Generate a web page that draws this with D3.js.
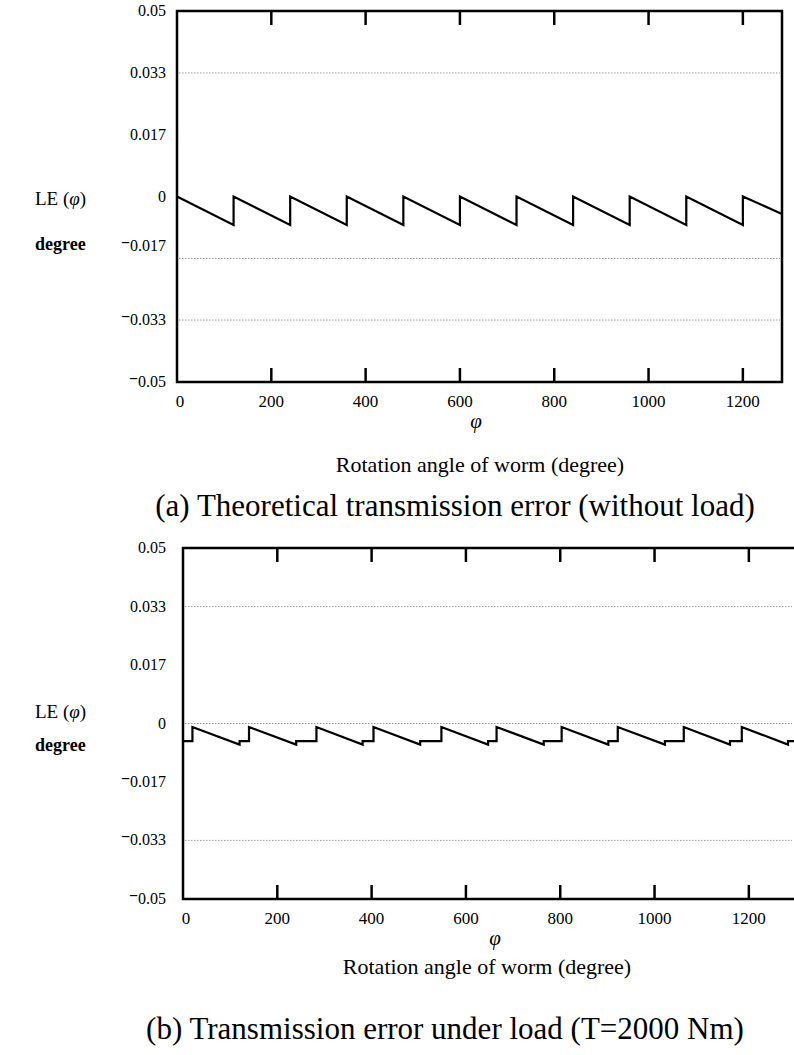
<!DOCTYPE html>
<meta charset="utf-8">
<style>
body {
  margin: 0;
  background: #fff;
}
svg text {
  font-family: "Liberation Serif", "Times New Roman", serif;
  fill: #000;
}
.frame {
  fill: none;
  stroke: #000;
  stroke-width: 2.5px;
}
.grid {
  stroke: #999;
  stroke-width: 1px;
  stroke-dasharray: 1.5 1.5;
}
.curve {
  fill: none;
  stroke: #000;
  stroke-width: 2.2px;
}
.tick {
  stroke: #000;
  stroke-width: 2.5px;
}
</style>
<body>
<script src="https://cdn.jsdelivr.net/npm/d3@7"></script>
<script>
// tick values and labels (shared by both panels)
var xTicks = [200, 400, 600, 800, 1000, 1200];
var xTickLabels = ["0", "200", "400", "600", "800", "1000", "1200"];
var xLabelVals = [0, 200, 400, 600, 800, 1000, 1200];
var yTicks = [0.05, 0.0333, 0.0167, 0, -0.0167, -0.0333, -0.05];
var yTickLabels = ["0.05", "0.033", "0.017", "0", "0.017", "0.033", "0.05"];

// (a) without load: sawtooth breakpoints
var phiA = [0, 120, 120, 240, 240, 360, 360, 480, 480, 600, 600, 720, 720,
            840, 840, 960, 960, 1080, 1080, 1200, 1200, 1283];
var leA = [0, -0.0077, 0, -0.0077, 0, -0.0077, 0, -0.0077, 0, -0.0077, 0,
           -0.0077, 0, -0.0077, 0, -0.0077, 0, -0.0077, 0, -0.0077, 0, -0.0047];
var gridA = [0.0333, -0.0167, -0.0333];

// (b) under load
var phiB = [0, 20, 20, 120, 120, 140, 140, 240, 240, 283, 283, 381, 381, 404,
            404, 503, 503, 548, 548, 647, 647, 665, 665, 765, 765, 803, 803, 902,
            902, 922, 922, 1022, 1022, 1062, 1062, 1160, 1160, 1185, 1185, 1283, 1283, 1300];
var leB = [-0.005, -0.005, -0.001, -0.006, -0.005, -0.005, -0.001, -0.006, -0.005,
           -0.005, -0.001, -0.006, -0.005, -0.005, -0.001, -0.006, -0.005, -0.005,
           -0.001, -0.006, -0.005, -0.005, -0.001, -0.006, -0.005, -0.005, -0.001,
           -0.006, -0.005, -0.005, -0.001, -0.006, -0.005, -0.005, -0.001, -0.006,
           -0.005, -0.005, -0.001, -0.006, -0.005, -0.005];
var gridB = [0.0333, 0, -0.0333];

var svg = d3.select("body").append("svg").attr("width", 794).attr("height", 1055);

function panel(o) {
  var x = d3.scaleLinear().domain([0, o.xMax]).range([o.left, o.right]);
  var y = d3.scaleLinear().domain([-0.05, 0.05]).range([o.bottom, o.top]);
  var g = svg.append("g");

  g.selectAll(".grid").data(o.grid).enter().append("line")
    .attr("class", "grid")
    .attr("x1", o.left + 2).attr("x2", Math.min(o.right, 794) - 2)
    .attr("y1", function(d) { return y(d); })
    .attr("y2", function(d) { return y(d); });

  var line = d3.line()
    .x(function(d) { return x(d[0]); })
    .y(function(d) { return y(d[1]); });
  g.append("path").attr("class", "curve")
    .attr("d", line(d3.zip(o.phi, o.le)));

  g.append("rect").attr("class", "frame")
    .attr("x", o.left).attr("y", o.top)
    .attr("width", o.right - o.left).attr("height", o.bottom - o.top);

  // ticks inside the frame, top and bottom
  xTicks.forEach(function(t) {
    g.append("line").attr("class", "tick")
      .attr("x1", x(t)).attr("x2", x(t))
      .attr("y1", o.top).attr("y2", o.top + 14);
    g.append("line").attr("class", "tick")
      .attr("x1", x(t)).attr("x2", x(t))
      .attr("y1", o.bottom).attr("y2", o.bottom - 14);
  });

  g.selectAll(".xl").data(xLabelVals).enter().append("text")
    .attr("x", function(d) { return x(d) + (d === 0 ? 3 : 0); })
    .attr("y", o.bottom + 25)
    .attr("text-anchor", "middle")
    .style("font-size", "17px")
    .text(function(d, i) { return xTickLabels[i]; });

  yTicks.forEach(function(t, i) {
    var txt = g.append("text")
      .attr("x", 166)
      .attr("y", y(t) + 5 + (o.yShift[i] || 0))
      .attr("text-anchor", "end")
      .style("font-size", "16px");
    if (t < 0) {
      txt.append("tspan").attr("dy", -3).style("font-weight", "bold").text("\u2212");
      txt.append("tspan").attr("dy", 3).text(yTickLabels[i]);
    } else {
      txt.text(yTickLabels[i]);
    }
  });

  var le = g.append("text").attr("x", 35).attr("y", o.leY).style("font-size", "19px");
  le.append("tspan").text("LE (");
  le.append("tspan").style("font-style", "italic").text("\u03c6");
  le.append("tspan").text(")");

  g.append("text").attr("x", 35).attr("y", o.degY)
    .style("font-size", "18px").style("font-weight", "bold").text("degree");

  g.append("text").attr("x", o.phiX).attr("y", o.bottom + 46)
    .attr("text-anchor", "middle")
    .style("font-size", "21px").style("font-style", "italic").text("\u03c6");

  g.append("text").attr("x", o.axisX).attr("y", o.axisY)
    .attr("text-anchor", "middle")
    .style("font-size", "22px").text("Rotation angle of worm (degree)");

  g.append("text").attr("x", o.capX).attr("y", o.capY)
    .attr("text-anchor", "middle")
    .style("font-size", "31px").text(o.caption);
}

panel({
  xMax: 1283, left: 177, right: 782, top: 11, bottom: 382,
  phi: phiA, le: leA, grid: gridA,
  yShift: [0, 0, 0, 0, -12, 0, 0],
  leY: 205, degY: 250, phiX: 476, axisX: 480, axisY: 472,
  capX: 455, capY: 516,
  caption: "(a) Theoretical transmission error (without load)"
});

panel({
  xMax: 1300, left: 183, right: 796, top: 548, bottom: 899,
  phi: phiB, le: leB, grid: gridB,
  yShift: [0, 0, 0, 0, 0, 0, 0],
  leY: 718, degY: 751, phiX: 495, axisX: 487, axisY: 974,
  capX: 445, capY: 1039,
  caption: "(b) Transmission error under load (T=2000 Nm)"
});
</script>
</body>
